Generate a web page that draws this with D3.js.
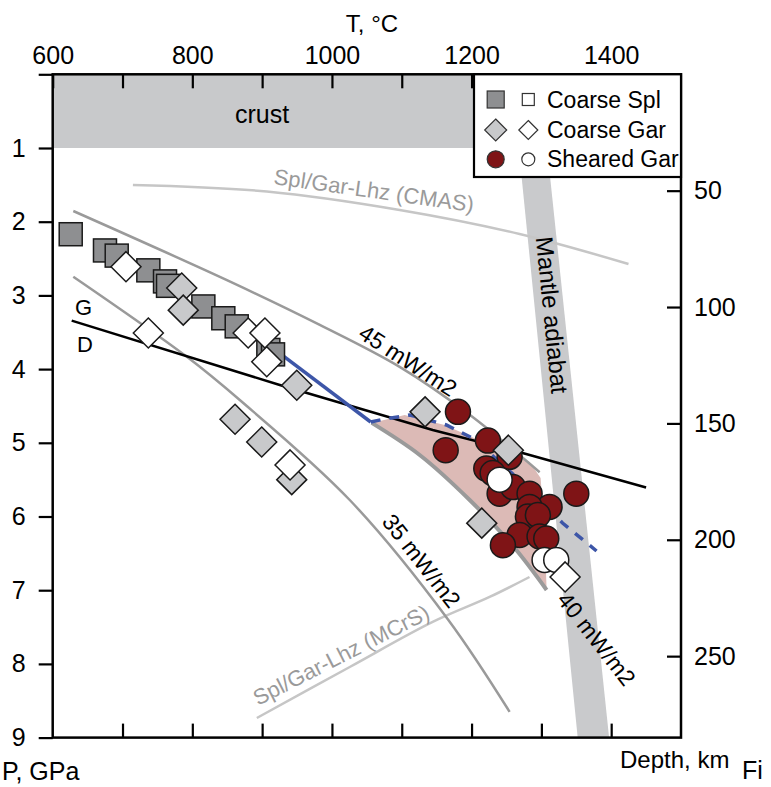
<!DOCTYPE html>
<html><head><meta charset="utf-8">
<script src="https://cdn.jsdelivr.net/npm/d3@7"></script>
<style>
body{margin:0;background:#fff}
text{font-family:"Liberation Sans",Arial,Helvetica,sans-serif}
</style>
</head><body>
<svg id="c" width="771" height="787"></svg>
<script>
// ---------- DATA ----------
const tempTicks = [600, 800, 1000, 1200, 1400];
const pressureTicks = [1, 2, 3, 4, 5, 6, 7, 8, 9];
const depthTicks = [50, 100, 150, 200, 250];

// [T °C, P GPa]
const coarseSplFilled = [[625.8,2.17],[674.9,2.39],[691.7,2.46],[737,2.66],[760.9,2.81],[765.2,2.87],
  [815.8,3.15],[844.4,3.31],[863.6,3.42],[908.9,3.74],[915.6,3.80]];
const coarseGarFilled = [[784.8,2.90],[787,3.20],[949.6,4.22],[861.2,4.68],[899.4,4.99],[942.4,5.50],
  [1133.4,4.58],[1252.7,5.10],[1214.6,6.09]];
const coarseGarOpen = [[705,2.61],[737,3.51],[880,3.51],[904,3.51],[906.6,3.90],[940,5.30],[1334,6.82]];
const shearedGarFilled = [[1180.5,4.58],[1162.9,5.10],[1223.4,4.97],[1254.5,5.19],[1221.1,5.35],[1230.2,5.41],
  [1240.2,5.69],[1259.2,5.60],[1283.1,5.69],[1311.7,5.87],[1283.1,5.87],[1280.7,6.00],[1295,5.98],
  [1268.8,6.25],[1297.4,6.27],[1307,6.30],[1244.9,6.39],[1350,5.69]];
const shearedGarOpen = [[1240.2,5.50],[1304.6,6.59],[1321.3,6.59]];

const geotherm45 = [[629.5,1.855],[858,2.83],[982.6,3.40],[1097,3.97],[1197.3,4.62],[1297.5,5.40]];
const geotherm35 = [[629.5,2.746],[791.8,3.83],[868,4.42],[1025.5,5.776],[1166.5,7.40],[1254.5,8.65]];
const geotherm40 = [[1057,4.73],[1125.7,5.165],[1197.3,5.776],[1261.7,6.428],[1307.5,6.997]];
const pinkUpper = [[1057,4.73],[1104.2,4.622],[1161.5,4.758],[1225.9,5.03],[1283.1,5.26],[1298.9,5.477],[1304.6,6.183],[1307.5,6.997]];
const graphiteDiamond = [[627.2,3.343],[925.3,4.216],[1144.3,4.826],[1273,5.138],[1450,5.607]];
const blueSolid = [[923,3.77],[1055.5,4.718]];
const blueDashed = [[1055.5,4.718],[1075.6,4.677],[1111.4,4.622],[1163.9,4.758],[1202,4.939],[1268.8,5.505],[1330.3,6.088],[1379,6.468]];
const splGarCMAS = [[714.9,1.502],[906.7,1.59],[1097,1.841],[1268.8,2.167],[1424.8,2.574]];
const splGarMCrS = [[892.4,8.734],[1025.5,8.042],[1144.3,7.431],[1225.8,7.092],[1283,6.821]];
const adiabatLeft = [[1257,0],[1352,9]];
const adiabatRight = [[1297,0],[1397,9]];
const crustBand = {tMin:600, tMax:1500, pMin:0, pMax:1};

// ---------- SCALES ----------
const svg = d3.select("#c");
const x = d3.scaleLinear().domain([600,1500]).range([52.7,681]);
const y = d3.scaleLinear().domain([0,9]).range([74.3,737.6]);
const yd = d3.scaleLinear().domain([0,285]).range([74.3,737.6]);

const lineLin = d3.line().x(d=>x(d[0])).y(d=>y(d[1]));
const lineCurve = d3.line().x(d=>x(d[0])).y(d=>y(d[1])).curve(d3.curveCatmullRom.alpha(0.5));

// crust
svg.append("rect").attr("x",x(crustBand.tMin)).attr("y",y(crustBand.pMin))
  .attr("width",x(crustBand.tMax)-x(crustBand.tMin)).attr("height",y(crustBand.pMax)-y(crustBand.pMin))
  .attr("fill","#c8c9cb");
svg.append("text").attr("x",262).attr("y",123).attr("text-anchor","middle")
  .attr("font-size",25).text("crust");

// mantle adiabat band
svg.append("path").attr("d", lineLin(adiabatLeft.concat(adiabatRight.slice().reverse())) + "Z")
  .attr("fill","#c9cacc");

// pink field
svg.append("path").attr("d", lineLin(pinkUpper.concat(geotherm40.slice().reverse())) + "Z")
  .attr("fill","#dcbab6");

// light gray phase boundaries
svg.append("path").attr("d",lineCurve(splGarCMAS)).attr("fill","none").attr("stroke","#c6c6c6").attr("stroke-width",2.5);
svg.append("path").attr("d",lineCurve(splGarMCrS)).attr("fill","none").attr("stroke","#c6c6c6").attr("stroke-width",2.5);

// geotherms
svg.append("path").attr("d",lineCurve(geotherm45)).attr("fill","none").attr("stroke","#9a9a9a").attr("stroke-width",2.5);
svg.append("path").attr("d",lineCurve(geotherm35)).attr("fill","none").attr("stroke","#9a9a9a").attr("stroke-width",2.5);
svg.append("path").attr("d",lineCurve(geotherm40)).attr("fill","none").attr("stroke","#9a9a9a").attr("stroke-width",4);

// graphite-diamond
svg.append("path").attr("d",lineLin(graphiteDiamond)).attr("fill","none").attr("stroke","#000").attr("stroke-width",2.5);

// blue lines
svg.append("path").attr("d",lineLin(blueSolid)).attr("fill","none").attr("stroke","#3d56a8").attr("stroke-width",3.5);
svg.append("path").attr("d",lineLin(blueDashed)).attr("fill","none").attr("stroke","#3d56a8").attr("stroke-width",3.5)
  .attr("stroke-dasharray","10,9");

// labels
const lab = (t,xx,yy,rot,size,fill,anchor) => svg.append("text").attr("transform",`translate(${xx},${yy}) rotate(${rot})`)
  .attr("font-size",size).attr("fill",fill).attr("text-anchor",anchor||"start").text(t);
lab("Spl/Gar-Lhz (CMAS)",273,184,8,22,"#9a9a9a");
lab("Spl/Gar-Lhz (MCrS)",258,706,-27,22,"#9a9a9a");
lab("45 mW/m2",357,337,33,23,"#000");
lab("35 mW/m2",381,522,52,23,"#000");
lab("40 mW/m2",556,600,52,23,"#000");
lab("Mantle adiabat",552,315,84.3,24,"#000","middle").attr("dy","0.35em");
lab("G",75,315,0,22,"#000");
lab("D",77,352,0,22,"#000");

// symbols
const S = 23, D = 15, R = 12.5;
svg.append("g").selectAll("rect").data(coarseSplFilled).join("rect")
  .attr("x",d=>x(d[0])-S/2).attr("y",d=>y(d[1])-S/2).attr("width",S).attr("height",S)
  .attr("fill","#8e8f91").attr("stroke","#1a1a1a").attr("stroke-width",1.5);
svg.append("g").selectAll("circle").data(shearedGarFilled).join("circle")
  .attr("cx",d=>x(d[0])).attr("cy",d=>y(d[1])).attr("r",R)
  .attr("fill","#7f1416").attr("stroke","#1a1a1a").attr("stroke-width",1.5);
svg.append("g").selectAll("circle").data(shearedGarOpen).join("circle")
  .attr("cx",d=>x(d[0])).attr("cy",d=>y(d[1])).attr("r",R)
  .attr("fill","#fff").attr("stroke","#1a1a1a").attr("stroke-width",1.5);
const diamond = (cx,cy,h) => `M${cx},${cy-h}L${cx+h},${cy}L${cx},${cy+h}L${cx-h},${cy}Z`;
svg.append("g").selectAll("path").data(coarseGarFilled).join("path")
  .attr("d",d=>diamond(x(d[0]),y(d[1]),D))
  .attr("fill","#c8c9cb").attr("stroke","#1a1a1a").attr("stroke-width",1.5);
svg.append("g").selectAll("path").data(coarseGarOpen).join("path")
  .attr("d",d=>diamond(x(d[0]),y(d[1]),D))
  .attr("fill","#fff").attr("stroke","#1a1a1a").attr("stroke-width",1.5);

// axes
const styleAxis = g => { g.select(".domain").remove(); g.selectAll("line").attr("stroke","#000").attr("stroke-width",2.2);
  g.selectAll("text").attr("font-size",25).attr("fill","#000").attr("font-family","Liberation Sans, Arial, sans-serif"); };
svg.append("g").attr("transform",`translate(0,${y(0)})`)
  .call(d3.axisTop(x).tickValues(d3.range(600,1500,100)).tickSize(-14).tickPadding(10)
    .tickFormat(d=>tempTicks.includes(d)?d:"")).call(styleAxis);
svg.append("g").attr("transform",`translate(0,${y(9)})`)
  .call(d3.axisBottom(x).tickValues(d3.range(700,1500,100)).tickSize(-14).tickFormat("")).call(styleAxis);
svg.append("g").attr("transform",`translate(${x(600)},0)`)
  .call(d3.axisLeft(y).tickValues([0].concat(pressureTicks)).tickSize(14).tickPadding(13)
    .tickFormat(d=>pressureTicks.includes(d)?d:"")).call(styleAxis);
svg.append("g").attr("transform",`translate(${x(1500)},0)`)
  .call(d3.axisRight(yd).tickValues(depthTicks).tickSize(-14).tickPadding(13)).call(styleAxis);

// frame
svg.append("rect").attr("x",x(600)).attr("y",y(0)).attr("width",x(1500)-x(600)).attr("height",y(9)-y(0))
  .attr("fill","none").attr("stroke","#000").attr("stroke-width",2.5);

// legend
const lg = svg.append("g");
lg.append("rect").attr("x",474).attr("y",y(0)).attr("width",x(1500)-474).attr("height",177-y(0))
  .attr("fill","#fff").attr("stroke","#000").attr("stroke-width",2.2);
const rows = [99.5,130,159.3];
lg.append("rect").attr("x",495.7-8.5).attr("y",rows[0]-8.5).attr("width",17).attr("height",17)
  .attr("fill","#8e8f91").attr("stroke","#333").attr("stroke-width",1.2);
lg.append("rect").attr("x",528.3-6).attr("y",rows[0]-6).attr("width",12).attr("height",12)
  .attr("fill","#fff").attr("stroke","#333").attr("stroke-width",1.2);
lg.append("path").attr("d",diamond(495.7,rows[1],11)).attr("fill","#c8c9cb").attr("stroke","#333").attr("stroke-width",1.2);
lg.append("path").attr("d",diamond(528.3,rows[1],9.5)).attr("fill","#fff").attr("stroke","#333").attr("stroke-width",1.2);
lg.append("circle").attr("cx",495.7).attr("cy",rows[2]).attr("r",8.5).attr("fill","#7f1416").attr("stroke","#333").attr("stroke-width",1.2);
lg.append("circle").attr("cx",528.3).attr("cy",rows[2]).attr("r",6.5).attr("fill","#fff").attr("stroke","#333").attr("stroke-width",1.2);
["Coarse Spl","Coarse Gar","Sheared Gar"].forEach((t,i)=>
  lg.append("text").attr("x",547).attr("y",rows[i]+8).attr("font-size",23).text(t));

// axis titles
svg.append("text").attr("x",372).attr("y",32).attr("text-anchor","middle").attr("font-size",24).text("T, °C");
svg.append("text").attr("x",2).attr("y",780).attr("font-size",25).text("P, GPa");
svg.append("text").attr("x",620).attr("y",768).attr("font-size",24).text("Depth, km");
svg.append("text").attr("x",742).attr("y",779).attr("font-size",25).attr("font-family","Liberation Serif, serif").text("Fi");
</script>
</body></html>
